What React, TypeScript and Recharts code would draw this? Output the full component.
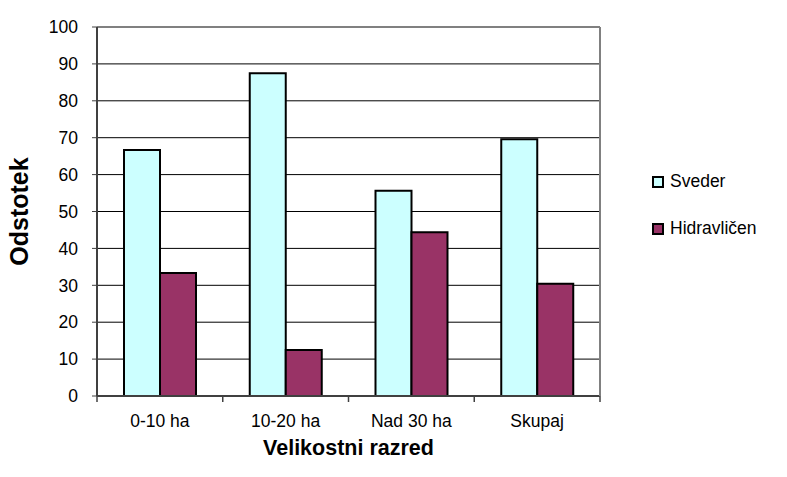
import { BarChart, Bar, XAxis, YAxis, CartesianGrid, ReferenceLine } from 'recharts'

const categories = ['0-10 ha', '10-20 ha', 'Nad 30 ha', 'Skupaj']
const sveder = [66.7, 87.5, 55.6, 69.6]
const hidravlicen = [33.3, 12.5, 44.4, 30.4]
const yTicks = [0, 10, 20, 30, 40, 50, 60, 70, 80, 90, 100]

const data = categories.map((name, i) => ({
    name,
    sveder: sveder[i],
    hidravlicen: hidravlicen[i],
}))

const font = 'Liberation Sans, Arial, sans-serif'
const TICK_MARGIN = 19

const series = [
    { key: 'sveder', label: 'Sveder', color: '#CCFFFF' },
    { key: 'hidravlicen', label: 'Hidravličen', color: '#993366' },
]

// category label plus the small tick marks on the category boundaries
const CategoryTick = (props: any) => {
    const { x, y, payload, index, visibleTicksCount } = props
    const half = payload.offset || 0
    const axisY = y - TICK_MARGIN
    const isLast = index === visibleTicksCount - 1
    return (
        <g>
            <line x1={x - half} x2={x - half} y1={axisY} y2={axisY + 6} stroke="#404040" strokeWidth={1.5} />
            {isLast && (
                <line x1={x + half} x2={x + half} y1={axisY} y2={axisY + 6} stroke="#404040" strokeWidth={1.5} />
            )}
            <text x={x} y={y} dy="0.71em" textAnchor="middle" fill="#000" fontSize={17.5} fontFamily={font}>
                {payload.value}
            </text>
        </g>
    )
}

// legend sits outside the svg so it takes no room from the plot
const LegendBox = () => (
    <div style={{ position: 'absolute', left: 652, top: 158, fontFamily: font, fontSize: 17.5, color: '#000' }}>
        {series.map((s) => (
            <div key={s.key} style={{ display: 'flex', alignItems: 'center', height: 47 }}>
                <span style={{
                    display: 'inline-block',
                    width: 8,
                    height: 8,
                    border: '2px solid #000',
                    background: s.color,
                    marginRight: 6,
                }} />
                {s.label}
            </div>
        ))}
    </div>
)

export default function App() {
    return (
        <div style={{ position: 'absolute', left: 0, top: 0, width: 787, height: 477, background: '#fff' }}>
            <BarChart
                width={787}
                height={477}
                data={data}
                margin={{ top: 27, right: 186, bottom: 0, left: 0 }}
                barCategoryGap={27}
                barGap={0}
            >
                <CartesianGrid horizontal vertical={false} stroke="#000" strokeWidth={1} />
                <XAxis
                    dataKey="name"
                    height={81}
                    axisLine={{ stroke: '#404040', strokeWidth: 2 }}
                    tickLine={false}
                    tickSize={0}
                    tickMargin={TICK_MARGIN}
                    tick={<CategoryTick />}
                    label={{
                        value: 'Velikostni razred',
                        position: 'center',
                        dy: 11,
                        style: { fontWeight: 'bold', fontSize: 21.5, fontFamily: font, fill: '#000' },
                    }}
                />
                <YAxis
                    domain={[0, 100]}
                    ticks={yTicks}
                    width={97}
                    axisLine={{ stroke: '#404040', strokeWidth: 2 }}
                    tickLine={{ stroke: '#404040', strokeWidth: 1 }}
                    tickSize={5}
                    tickMargin={14}
                    tick={{ fill: '#000', fontSize: 17.5, fontFamily: font }}
                    label={{
                        value: 'Odstotek',
                        angle: -90,
                        position: 'center',
                        dx: -29,
                        style: { fontWeight: 'bold', fontSize: 25, fontFamily: font, fill: '#000', textAnchor: 'middle' },
                    }}
                />
                <YAxis
                    yAxisId="r"
                    orientation="right"
                    domain={[0, 100]}
                    width={1}
                    tick={false}
                    tickLine={false}
                    axisLine={{ stroke: '#808080', strokeWidth: 2 }}
                />
                <ReferenceLine y={100} stroke="#808080" strokeWidth={2} />
                {series.map((s) => (
                    <Bar
                        key={s.key}
                        dataKey={s.key}
                        name={s.label}
                        fill={s.color}
                        stroke="#000"
                        strokeWidth={2}
                        isAnimationActive={false}
                    />
                ))}
            </BarChart>
            <LegendBox />
        </div>
    )
}
